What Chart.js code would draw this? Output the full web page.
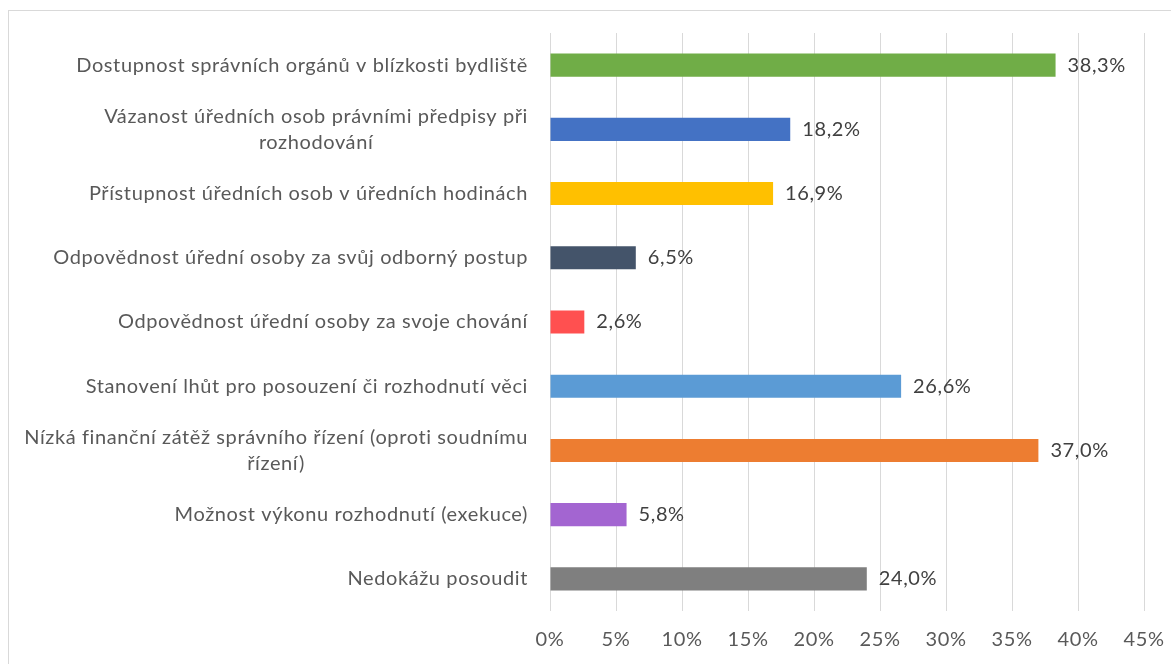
<!DOCTYPE html>
<html>
<head>
<meta charset="utf-8">
<script src="https://cdn.jsdelivr.net/npm/chart.js@4/dist/chart.umd.min.js"></script>
<style>
  html, body { margin: 0; padding: 0; background: #ffffff; }
  #wrap { position: relative; width: 1171px; height: 664px; overflow: hidden; }
  #frame { position: absolute; left: 8px; top: 10px; width: 1180px; height: 680px;
           border: 1px solid #d9d9d9; box-sizing: border-box; pointer-events: none; }
  canvas { display: block; }
</style>
</head>
<body>
<div id="wrap">
  <canvas id="c" width="1171" height="664"></canvas>
  <div id="frame"></div>
</div>
<script>
// Categories (each entry is a list of wrapped lines)
const categories = [
  ["Dostupnost správních orgánů v blízkosti bydliště"],
  ["Vázanost úředních osob právními předpisy při", "rozhodování"],
  ["Přístupnost úředních osob v úředních hodinách"],
  ["Odpovědnost úřední osoby za svůj odborný postup"],
  ["Odpovědnost úřední osoby za svoje chování"],
  ["Stanovení lhůt pro posouzení či rozhodnutí věci"],
  ["Nízká finanční zátěž správního řízení (oproti soudnímu", "řízení)"],
  ["Možnost výkonu rozhodnutí (exekuce)"],
  ["Nedokážu posoudit"]
];

// Share of respondents, in percent
const shares = [38.3, 18.2, 16.9, 6.5, 2.6, 26.6, 37.0, 5.8, 24.0];

// Bar colours
const barColors = ["#70AD47", "#4472C4", "#FFC000", "#44546A", "#FF5050",
                   "#5B9BD5", "#ED7D31", "#A365D1", "#7F7F7F"];

// X axis ticks (percent)
const xTicks = [0, 5, 10, 15, 20, 25, 30, 35, 40, 45];

const FONT = "Lato, 'Open Sans', sans-serif";
const TEXT = "#595959";
const SPACING = "0.6px";

const fmt = v => v.toFixed(1).replace(".", ",") + "%";

// Slightly open letter spacing for all chart text
const textSpacing = {
  id: "textSpacing",
  beforeDraw(chart) { chart.ctx.letterSpacing = SPACING; }
};

// Category labels: block right-aligned to the axis, lines centred within the block
const categoryLabels = {
  id: "categoryLabels",
  afterDraw(chart) {
    const ctx = chart.ctx;
    const y = chart.scales.y;
    const right = chart.chartArea.left - 22;
    const lineH = 26;
    ctx.save();
    ctx.letterSpacing = SPACING;
    ctx.font = "20px " + FONT;
    ctx.fillStyle = TEXT;
    ctx.textBaseline = "middle";
    ctx.textAlign = "center";
    categories.forEach((lines, i) => {
      const cy = y.getPixelForTick(i);
      const w = Math.max(...lines.map(l => ctx.measureText(l).width));
      const cx = right - w / 2;
      const y0 = cy - (lines.length - 1) * lineH / 2;
      lines.forEach((l, k) => ctx.fillText(l, cx, y0 + k * lineH));
    });
    ctx.restore();
  }
};

// Value labels at the end of each bar
const valueLabels = {
  id: "valueLabels",
  afterDatasetsDraw(chart) {
    const ctx = chart.ctx;
    const meta = chart.getDatasetMeta(0);
    ctx.save();
    ctx.letterSpacing = SPACING;
    ctx.font = "20px " + FONT;
    ctx.fillStyle = "#404040";
    ctx.textBaseline = "middle";
    ctx.textAlign = "left";
    meta.data.forEach((bar, i) => {
      ctx.fillText(fmt(shares[i]), bar.x + 12, bar.y);
    });
    ctx.restore();
  }
};

new Chart(document.getElementById("c"), {
  type: "bar",
  data: {
    labels: categories,
    datasets: [{
      data: shares,
      backgroundColor: barColors,
      borderWidth: 0,
      barPercentage: 0.36,
      categoryPercentage: 1.0
    }]
  },
  options: {
    indexAxis: "y",
    responsive: false,
    animation: false,
    devicePixelRatio: 1,
    layout: { padding: { top: 33, right: 27, left: 0, bottom: 0 } },
    plugins: { legend: { display: false }, tooltip: { enabled: false } },
    scales: {
      x: {
        min: 0, max: 45,
        afterBuildTicks(scale) { scale.ticks = xTicks.map(v => ({ value: v })); },
        afterFit(scale) {
          scale.height = 53;
          scale.paddingLeft = 0;
          scale.paddingRight = 0;
        },
        border: { display: false },
        grid: { color: "#d9d9d9", lineWidth: 1, drawTicks: false },
        ticks: {
          padding: 17,
          color: TEXT,
          font: { family: FONT, size: 20 },
          callback: v => v + "%"
        }
      },
      y: {
        afterFit(scale) { scale.width = 550; },
        border: { display: false },
        grid: { display: false },
        ticks: { display: false }
      }
    }
  },
  plugins: [textSpacing, categoryLabels, valueLabels]
});
</script>
</body>
</html>
